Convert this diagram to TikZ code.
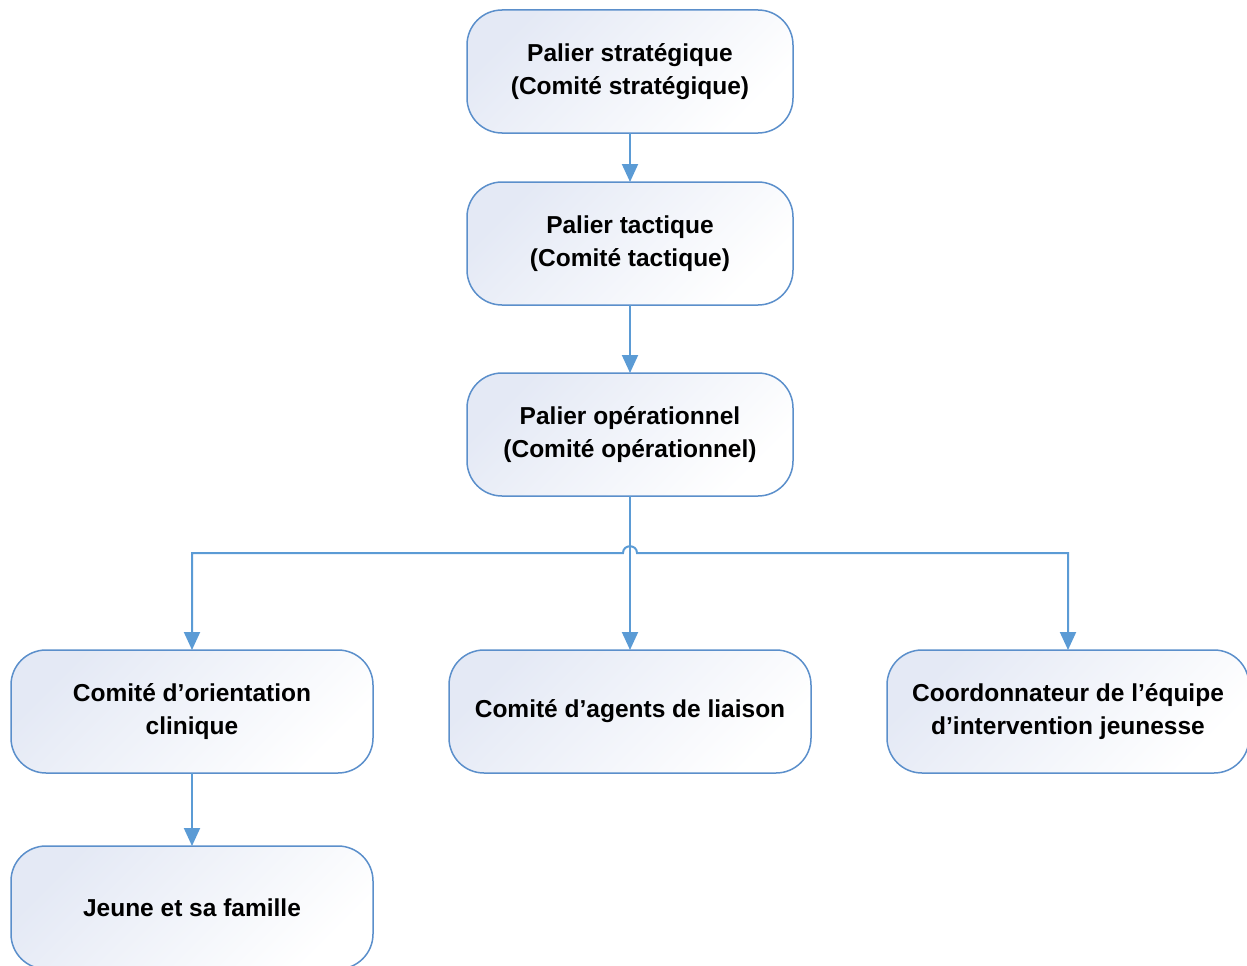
\documentclass[tikz,border=0pt]{standalone}
\usepackage{fontspec}
\setmainfont{Liberation Sans}
\usetikzlibrary{arrows.meta,positioning,calc}
\definecolor{dg}{HTML}{5B8FCB}
\definecolor{lk}{HTML}{5B9BD5}
\definecolor{bg}{HTML}{E4E9F5}
\tikzset{
    tier/.style =   {rectangle,
                    rounded corners=35pt,
                    draw=dg,
                    line width=1.5pt,
                    outer sep=0pt,
                    top color=bg,
                    bottom color=white,
                    shading angle=45,
                    text=black,
                    align=center,
                    font=\fontsize{24.5}{33}\selectfont\bfseries,
                    minimum width=326pt,
                    minimum height=123pt},
    wide/.style =   {tier,
                    minimum width=362pt},
    -,
    link/.style =   {draw=lk,
                    fill=lk,
                    line width=2pt},
    >={Triangle[width=16pt,length=18pt,color=lk]},
    x=1pt,y=-1pt}
\begin{document}
\begin{tikzpicture}
                \useasboundingbox (0,0) rectangle (1247,966);
                \node[tier]       (strat) at (630,71.5)         {Palier stratégique\\(Comité stratégique)};
                \node[tier]       (tact)  [below=49pt of strat] {Palier tactique\\(Comité tactique)};
                \node[tier]       (oper)  [below=68pt of tact]  {Palier opérationnel\\(Comité opérationnel)};
                \node[wide]       (liais) [below=154pt of oper] {Comité d’agents de liaison};
                \node[wide]       (clin)  [left=76pt of liais]  {Comité d’orientation\\clinique};
                \node[wide]       (coord) [right=76pt of liais] {Coordonnateur de l’équipe\\d’intervention jeunesse};
                \node[wide]       (fam)   [below=73pt of clin]  {Jeune et sa famille};
                \coordinate (hub) at ($(oper.south)+(0,57)$);
                \path [link,->]  (strat) edge (tact)
                                 (tact)  edge (oper)
                                 (oper)  edge (liais)
                                 (clin)  edge (fam);
                \draw [link,fill=none,<->] (clin.north) |- ($(hub)+(-7,0)$)
                                 .. controls +(0,-9) and +(0,-9) .. ($(hub)+(7,0)$)
                                 -| (coord.north);
        \end{tikzpicture}
\end{document}
